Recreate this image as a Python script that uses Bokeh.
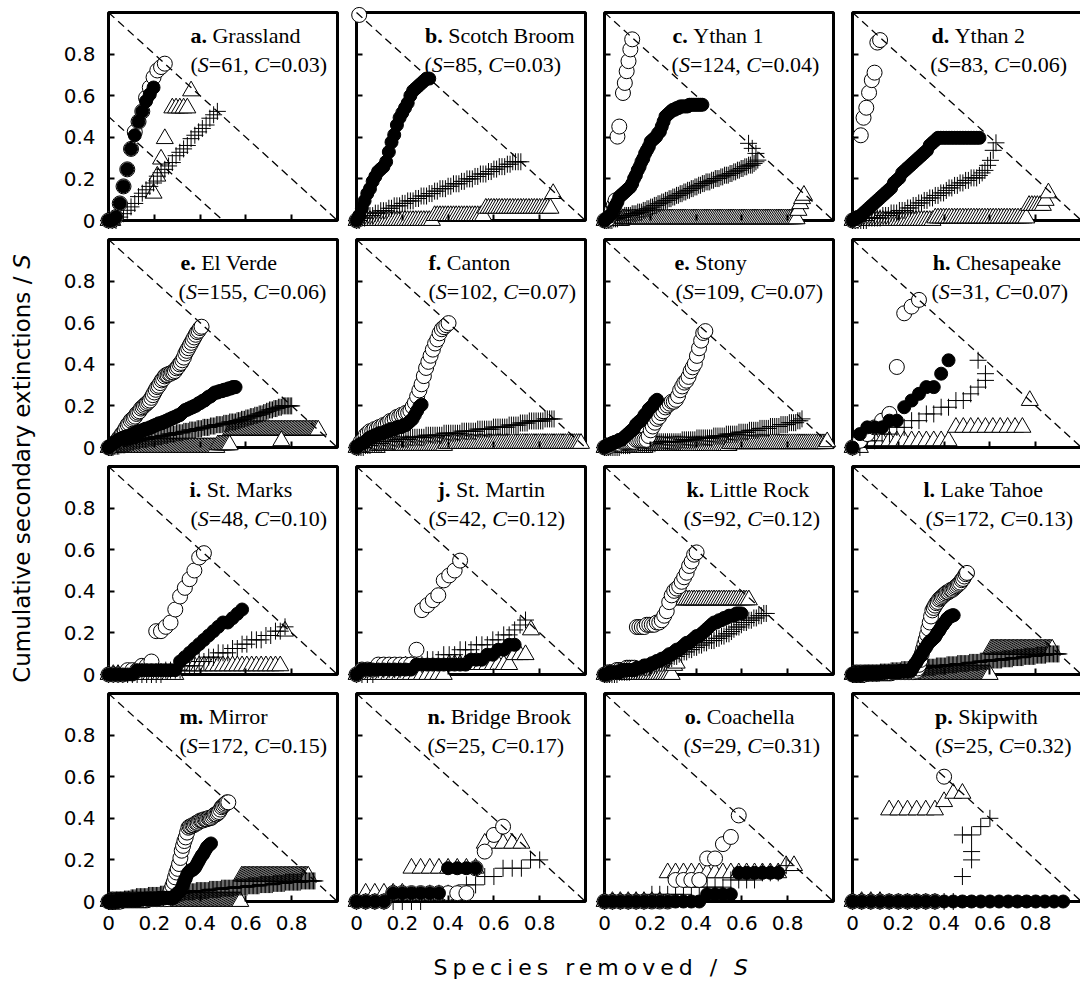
import math
from bokeh.plotting import figure
from bokeh.layouts import row, column
from bokeh.models import Range1d, LinearAxis, FixedTicker, BoxAnnotation, Div
from bokeh.core.properties import value
from bokeh.embed import file_html
from bokeh.resources import INLINE

# ---------------- data ----------------
LETTERS = ["a.", "b.", "c.", "d.", "e.", "f.", "e.", "h.",
           "i.", "j.", "k.", "l.", "m.", "n.", "o.", "p."]
NAMES = ["Grassland", "Scotch Broom", "Ythan 1", "Ythan 2", "El Verde", "Canton",
         "Stony", "Chesapeake", "St. Marks", "St. Martin", "Little Rock", "Lake Tahoe",
         "Mirror", "Bridge Brook", "Coachella", "Skipwith"]
S_VALUES = [61, 85, 124, 83, 155, 102, 109, 31, 48, 42, 92, 172, 172, 25, 29, 25]
C_LABELS = ["0.03", "0.03", "0.04", "0.06", "0.06", "0.07", "0.07", "0.07",
            "0.10", "0.12", "0.12", "0.13", "0.15", "0.17", "0.31", "0.32"]

# Each series: segments (first removal index k, cumulative secondary extinctions
# per removal step; "c*n" = value c for n consecutive removals). x = k/S, y = c/S.
OPEN = [
    [(0, "0 0 1 5 10 15 21 26 29 32 36 39 42 44 45 46")],
    [(0, "0 84")],
    [(0, "0 0 1 3 6 9 12"), (7, "50 56"), (10, "76 82 89 95 102 108")],
    [(0, "0 0 1 34 41 45 51 56 59 71 72")],
    [(0, "0 0 1 2 3 4 5 7 8 10 11 13 15 17 18 20 21 22 23 25 26 27 29 30 31 32 33 34 35 37 "
         "39 41 43 45 46 48 50 51 53 54 54 55 55 56 56 57 59 60 62 63 65 67 70 72 74 76 78 "
         "80 82 84 86 87 89 90")],
    [(0, "0 1 3 4 6 7 8 8 9 9 10 10 11 11 12 13 13 14 15 15 16 16 17 17 18 20 22 25 28 31 "
         "35 39 42 45 48 51 53 56 58 59 60 61")],
    [(0, "0 0 1 1 2 2 2 2 3 3 3 3 3 3 3 4 4 4 4 4 4 6 9 11 13 15 16 18 19 21 22 23 24 24 25 "
         "27 30 32 34 35 37 40 42 44 48 52 56 60 61")],
    [(0, "0 1 2 3 4 5 12 20 21 22")],
    [(0, "0 0 0 0 1 1 1 2 2 3 10 10 11 12 15 18 20 22 24 27 28")],
    [(0, "0 1 1 1 2 2 2 2 2 2 2 5 13 14 15 16 19 20 21 23")],
    [(0, "0 0 1 1 1 2 2 2 2 3 3 3 3 21 21 21 21 22 22 22 22 23 23 24 26 28 32 35 37 38 39 "
         "41 43 45 48 50 53 54")],
    [(0, "0*10 1*20 2*18 3 5 8 12 17 21 25 29 33 38 43 48 53 55 57 59 60 62 63 64 65 66 67 "
         "68 68 69 70 70 71 72 73 74 75 76 78 79 81 83 84")],
    [(0, "0*10 1*20 2*15 4 7 10 13 16 20 24 27 31 36 42 46 50 53 57 61 62 62 63 63 64 65 65 "
         "66 67 67 67 68 68 68 69 69 69 70 71 72 72 73 74 76 78 79 80 81 82 82")],
    [(0, "0 0 0 0 1 1 1 1 1 1 1 1 1 4 6 8 9")],
    [(0, "0*9 3*4 6 6 8 9 12")],
    [(0, "0*10 15")],
]
FILLED = [
    [(0, "0 0 1 5 10 15 21 25 29 32 35 37 39")],
    [(0, "0 2 5 8 11 13 16 18 20 21 22 24 28 32 35 39 42 44 46 48 51 53 54 55 56 57 58 58")],
    [(0, "0 1 2 3 4 7 9 11 14 15 16 17 18 19 20 22 25 27 30 32 35 37 40 42 44 47 48 49 50 "
         "52 53 56 59 62 63 64 65 66 66 67 67 68 68*4 69*8")],
    [(0, "0 1 1 2 3 4 5 6 7 8 9 10 11 12 13 15 16 17 19 20 21 22 23 24 25 26 27 28 30 31 32 "
         "33*16")],
    [(0, "0 1 2 3 4 4 5 6*2 7*2 8*3 9*2 10*2 11*2 12*3 13*2 14*3 15*2 16*2 17*2 18*3 19*2 "
         "20*2 21*2 22*2 23*2 24*2 25 26 27 28 28 29 29 30 30 31 31 32 33 33 34 35 35 36 37 "
         "38 38 39 40 41*3 42*3 43*3 44*3 45*3")],
    [(0, "0 1 2 2 3 4 5 5 6 6 7 7 7 8 8 9 9 9 10 10 10 11 11 12 13 14 16 18 20 21")],
    [(0, "0 1 1 2 2 3 3 4 4 5 6 7 8 9 10 12 13 14 15 17 18 20 21 22 24 25")],
    [(0, "0 2 3 3 3 4 4 6 7 8 9 9 11 13")],
    [(0, "0*6 1*8 1 3 4 5 6 7 8 9 10 11 12 12 13 14 15")],
    [(0, "0 1*10 2*10 3*3 4*2 5*2 6*2")],
    [(0, "0 0 1 1 1 1 1 2 2 2 2 2 2 3 3 3 4 4 4 5 5 6 6 7 7 8 9 9 10 11 11 12 13 14 14 15 16 "
         "17 17 18 19 20 21 22 23 23 24 24 25 25 26 26 26 27 27 27")],
    [(0, "0*8 1*14 2*14 3*9 5 7 9 10 12 14 15 17 19 21 22 24 26 27 28 29 30 31 33 35 36 38 "
         "40 41 43 44 46 47 48 48 49 49")],
    [(0, "0*8 1*15 2*15 3*12 5 6 7 8 9 11 14 17 19 22 24 25 26 26 27 28 30 32 34 36 38 39 41 "
         "43 45 46 47 48")],
    [(0, "0 0 0 0 1 1 1 1 1 1 4 4 4 4")],
    [(0, "0*13 1*4 4*6")],
    [(0, "0*24")],
]
PLUS = [
    [(0, "0 0 0 1 2 3 4 5 7 8 9 10 11 13 14 15 16 17 19 20 21 22 24 25 26 27 28 30 31 32")],
    [(0, "0*2 1*2 2*3 3*2 4*3 5*2 6*3 7*2 8*3 9*2 10*3 11*2 12*2 13*3 14*2 15*3 16*2 17*3 "
         "18*2 19*3 20*2 21*2 22*3 23*2 24*4")],
    [(0, "0*5 1*3 2*3 3*4 4*3 5*3 6*2 7*2 8*2 9*2 10*2 11*2 12*2 13*2 14*2 15*2 16*2 17*2 "
         "18*2 19*2 20*2 21*2 22*2 23*3 24*2 25*3 26*2 27*3 28*2 29*2 30*2 31*2 32*2 33*3 "
         "34 35 36"), (78, "46"), (80, "43"), (82, "40")],
    [(0, "0*6 1*5 2*3 3*3 4*3 5*2 6*2 7*2 8*2 9*2 10*2 11*2 12 13*2 14*2 15*2 16*2 17*3 "
         "18 19 20 22 24 28 31")],
    [(0, "0*4 1*4 2*4 3*3 4*3 5*4 6*5 7*5 8*5 9*4 10*5 11*5 12*4 13*5 14*4 15*5 16*4 17*5 "
         "18*4 19*5 20*3 21*3 22*3 23*3 24*3 25*3 26*2 27*2 28*3 29*3 30*3 31*7")],
    [(0, "0*4 1*3 2*2 2*3 3*6 4*6 5*7 6*8 7*8 8*7 9*7 10*7 11*5 12*4 13*4 13*3 14*5")],
    [(0, "0*8 1*5 2*12 3*12 4*7 5*8 6*6 7*6 8*5 9*5 10*5 11*5 12*4 13*4 14*2 15")],
    [(0, "0 0 1 1 2 2 3 3 4 4 5 5 6 6 7 7 8 9 10"), (18, "11"), (17, "13")],
    [(0, "0*12 1*4 2*3 3*2 4*2 5*3 6*2 7*2 8*3 9*2 10*2 11")],
    [(0, "0 0 0 0 1 1 1 1 1 2 2 2 2 3 3 3 4 4 4 5 5 5 6 6 6 7 7 8 8 9 10 11")],
    [(0, "0*6 1*5 2*4 3*4 4*3 5*3 6 7 7 8 8 9 9 10 10 11 11 12 12 13 13 14 14 15 15 15 16 16 "
         "17 17 18 18 19 20 21 21 22 23 23 24 24 25 25 26 26 27 27")],
    [(0, "0*10 1*11 2*8 3*8 4*8 5*9 6*9 7*8 8*8 9*9 10*8 11*8 12*9 13*8 14*8 15*9 16*8 "
         "17*10")],
    [(0, "0*6 1*6 2*5 3*4 4*9 5*9 6*9 7*9 8*9 9*10 10*9 11*10 12*10 13*9 14*10 15*9 16*12 "
         "17*11")],
    [(0, "0 0 0 0 0 0 0 0 1 1 1 1 2 2 3 3 4 4 4 5 5")],
    [(0, "0*6 1*5 2*5 3*4 4*3 5")],
    [(0, "0*12"), (12, "3 5"), (13, "6"), (12, "8 8 9 10")],
]
TRI = [
    [(0, "0*2"), (12, "8 13 18 24"), (17, "33*5 38")],
    [(0, "0*29 2*19 5*25 11")],
    [(0, "0*10 1*95 6 10 13 15")],
    [(0, "0*30 1*34 6*6 8 11")],
    [(0, "0*74 2*9 13*60"), (117, "5")],
    [(0, "0*10 1*30 2*61")],
    [(0, "0*20 1*40 2*46 3")],
    [(0, "0*2 1*12 3*10 7")],
    [(0, "0*15 2*22 10")],
    [(0, "0*17 2*12 4*3 9")],
    [(0, "0*28 4 5 33*29")],
    [(0, "0*104 21*47")],
    [(0, "0*100 21*51")],
    [(0, "0 1*5 4*8 7*5")],
    [(0, "0*8 4*15 5 5")],
    [(0, "0*4 11*6 12 13 13")],
]
TICKS = [0, 0.2, 0.4, 0.6, 0.8]
DIAG_X = [0, 1]
DIAG_Y = [1, 0]
HALF_X = [0, 0.5]
HALF_Y = [0.5, 0]

# ---------------- layout / style ----------------
TX1 = [0.358, 0.299, 0.297, 0.345, 0.314, 0.314, 0.306, 0.35,
       0.354, 0.354, 0.358, 0.31, 0.31, 0.31, 0.35, 0.36]
TX2 = [0.358, 0.297, 0.293, 0.34, 0.306, 0.314, 0.31, 0.345,
       0.358, 0.314, 0.345, 0.319, 0.31, 0.31, 0.345, 0.36]
TY1, TY2 = 0.8875, 0.751
SERIF = "Liberation Serif"
SANS = "DejaVu Sans"
TSIZE = 22
BOX_W, BOX_H = 229.0, 208.0
LEFT_W = 48            # y-title strip
COL0_BORDER = 51       # tick-label room left of first column
COL_W = [248, 248, 248, 237]
ROW_TOP = [12, 6, 6, 6]
ROW_BOT = 13
ROW_BOTTOM_BORDER = 26
XT_H = 45

TIMES_REG = {' ': 250, '(': 333, ')': 333, ',': 250, '.': 250, '=': 564,
             'A': 722, 'B': 667, 'C': 667, 'D': 722, 'E': 611, 'F': 556, 'G': 722, 'H': 722,
             'I': 333, 'J': 389, 'K': 722, 'L': 611, 'M': 889, 'N': 722, 'O': 722, 'P': 556,
             'Q': 722, 'R': 667, 'S': 556, 'T': 611, 'U': 722, 'V': 722, 'W': 944, 'X': 722,
             'Y': 722, 'Z': 611,
             'a': 444, 'b': 500, 'c': 444, 'd': 500, 'e': 444, 'f': 333, 'g': 500, 'h': 500,
             'i': 278, 'j': 278, 'k': 500, 'l': 278, 'm': 778, 'n': 500, 'o': 500, 'p': 500,
             'q': 500, 'r': 333, 's': 389, 't': 278, 'u': 500, 'v': 500, 'w': 722, 'x': 500,
             'y': 500, 'z': 444}
for _d in "0123456789":
    TIMES_REG[_d] = 500
TIMES_BOLD = {'a': 500, 'b': 556, 'c': 444, 'd': 556, 'e': 444, 'f': 333, 'g': 500, 'h': 556,
              'i': 278, 'j': 333, 'k': 556, 'l': 278, 'm': 833, 'n': 556, 'o': 500, 'p': 556,
              'q': 556, 'r': 444, 's': 389, 't': 333, 'u': 556, 'v': 500, 'w': 722, 'x': 500,
              'y': 500, 'z': 444, '.': 250, ' ': 250}
TIMES_ITAL = {'S': 500, 'C': 667}
DEJAVU = {' ': 318, '/': 337, 'C': 698, 'S': 635, 'a': 613, 'c': 550, 'd': 635, 'e': 615,
          'i': 278, 'l': 278, 'm': 974, 'n': 634, 'o': 612, 'p': 635, 'r': 411, 's': 521,
          't': 392, 'u': 634, 'v': 592, 'x': 592, 'y': 592}


def tw(s, table, size):
    return sum(table.get(ch, 500) for ch in s) * size / 1000.0


def expand(segments, S):
    xs, ys = [], []
    for k0, toks in segments:
        k = k0
        for tok in toks.split():
            if "*" in tok:
                c, n = tok.split("*")
                c, n = int(c), int(n)
            else:
                c, n = int(tok), 1
            for _ in range(n):
                xs.append(k / S)
                ys.append(c / S)
                k += 1
    return xs, ys


def label_axis(standoff):
    return LinearAxis(ticker=FixedTicker(ticks=TICKS), axis_line_color=None,
                      major_tick_in=0, major_tick_out=0, minor_tick_line_color=None,
                      major_label_overrides={0: "0"}, major_label_standoff=standoff,
                      major_label_text_font=SANS, major_label_text_font_size="20px",
                      major_label_text_color="black")


def make_panel(i):
    r, c = divmod(i, 4)
    S = S_VALUES[i]
    ml = 9
    mt = ROW_TOP[r]
    mb = ROW_BOT
    fw = COL_W[c]
    fh = mt + 208 + mb
    x0 = -ml / BOX_W
    x1 = x0 + fw / BOX_W
    p = figure(frame_width=fw, frame_height=fh,
               x_range=Range1d(x0, x1), y_range=Range1d(-mb / BOX_H, 1 + mt / BOX_H),
               toolbar_location=None, output_backend="svg",
               x_axis_location=None, y_axis_location=None,
               min_border_left=COL0_BORDER if c == 0 else 0, min_border_right=0,
               min_border_top=0, min_border_bottom=ROW_BOTTOM_BORDER if r == 3 else 0,
               outline_line_color=None, background_fill_color="white",
               border_fill_color="white")
    p.grid.visible = False
    p.add_layout(BoxAnnotation(left=0, right=1, bottom=0, top=1, fill_color=None,
                               fill_alpha=0, line_color="black", line_alpha=1.0,
                               line_width=3, level="underlay"))
    # inward tick marks on the box
    for side in ("left", "below"):
        ax = LinearAxis(fixed_location=0, ticker=FixedTicker(ticks=TICKS),
                        axis_line_color=None, major_tick_in=6, major_tick_out=0,
                        major_tick_line_width=2, major_tick_line_color="black",
                        minor_tick_line_color=None,
                        major_label_overrides={t: "" for t in TICKS})
        p.add_layout(ax, side)
    if c == 0:
        p.add_layout(label_axis(4), "left")
    if r == 3:
        p.add_layout(label_axis(1), "below")

    tx, ty = expand(TRI[i], S)
    p.scatter(tx, ty, marker="triangle", size=17, fill_color="white",
              line_color="black", line_width=1)
    px, py = expand(PLUS[i], S)
    p.scatter(px, py, marker="cross", size=17, line_color="black", line_width=1)
    ox, oy = expand(OPEN[i], S)
    p.scatter(ox, oy, marker="circle", size=15, fill_color="white",
              line_color="black", line_width=1)
    fx, fy = expand(FILLED[i], S)
    p.scatter(fx, fy, marker="circle", size=13, fill_color="black",
              line_color="black", line_width=1)

    p.line(DIAG_X, DIAG_Y, line_color="black", line_width=1.3, line_dash="8 5")
    if i == 0:
        p.line(HALF_X, HALF_Y, line_color="black", line_width=1.3, line_dash="8 5")

    # panel labels
    common = dict(text_font=value(SERIF), text_font_size=f"{TSIZE}px",
                  text_baseline="alphabetic", text_align="left", text_color="black")
    let = LETTERS[i]
    wl = tw(let + " ", TIMES_BOLD, TSIZE)
    p.text(x=[TX1[i]], y=[TY1], text=[let], x_offset=[0], text_font_style="bold", **common)
    p.text(x=[TX1[i]], y=[TY1], text=[NAMES[i]], x_offset=[wl],
           text_font_style="normal", **common)
    seg1 = "("
    seg3 = "=" + str(S) + ","
    seg5 = "=" + C_LABELS[i] + ")"
    w1 = tw(seg1, TIMES_REG, TSIZE)
    w2 = tw("S", TIMES_ITAL, TSIZE)
    w3 = tw(seg3 + " ", TIMES_REG, TSIZE)
    w4 = tw("C", TIMES_ITAL, TSIZE)
    p.text(x=[TX2[i]] * 3, y=[TY2] * 3, text=[seg1, seg3, seg5],
           x_offset=[0, w1 + w2, w1 + w2 + w3 + w4], text_font_style="normal", **common)
    p.text(x=[TX2[i]] * 2, y=[TY2] * 2, text=["S", "C"],
           x_offset=[w1, w1 + w2 + w3], text_font_style="italic", **common)
    return p


panels = [make_panel(i) for i in range(16)]
grid = column(*[row(*panels[r * 4:(r + 1) * 4]) for r in range(4)])

GRID_H = sum(t + 208 + ROW_BOT for t in ROW_TOP) + ROW_BOTTOM_BORDER
TOTAL_W = LEFT_W + COL0_BORDER + sum(COL_W)

# y-axis title
ytf = figure(width=LEFT_W, height=GRID_H, x_range=Range1d(0, LEFT_W),
             y_range=Range1d(0, GRID_H), toolbar_location=None, output_backend="svg",
             x_axis_location=None, y_axis_location=None, min_border=0,
             outline_line_color=None)
ytf.grid.visible = False
YT_SIZE = 23
ymain = "Cumulative secondary extinctions / "
wym = tw(ymain, DEJAVU, YT_SIZE)
wys = tw("S", DEJAVU, YT_SIZE)
yc = GRID_H - 468
ys0 = yc - (wym + wys) / 2
ytf.text(x=[21], y=[ys0], text=[ymain], angle=math.pi / 2, text_font=value(SANS),
         text_font_size=f"{YT_SIZE}px", text_align="left", text_baseline="middle",
         text_color="black")
ytf.text(x=[21], y=[ys0 + wym], text=["S"], angle=math.pi / 2, text_font=value(SANS),
         text_font_size=f"{YT_SIZE}px", text_font_style="italic", text_align="left",
         text_baseline="middle", text_color="black")

# x-axis title (letter-spaced, as in the original)
XT_SIZE = 22
XT_SPACING = 5
xnat = tw("Species removed / S", DEJAVU, XT_SIZE) + XT_SPACING * 18
xleft = 591 - xnat / 2
xtop = 28 - 13
xdiv = Div(text=(f'<div style="position:relative;width:{TOTAL_W}px;height:{XT_H}px;">'
                 f'<span style="position:absolute;left:{xleft:.1f}px;top:{xtop}px;'
                 f'white-space:nowrap;font-family:\'DejaVu Sans\';font-size:{XT_SIZE}px;'
                 f'letter-spacing:{XT_SPACING}px;color:black;line-height:26px;">'
                 f'Species removed / <i>S</i></span></div>'),
           width=TOTAL_W, height=XT_H, margin=0)

layout = column(row(ytf, grid), xdiv)
open("out.html", "w").write(file_html(layout, INLINE))
